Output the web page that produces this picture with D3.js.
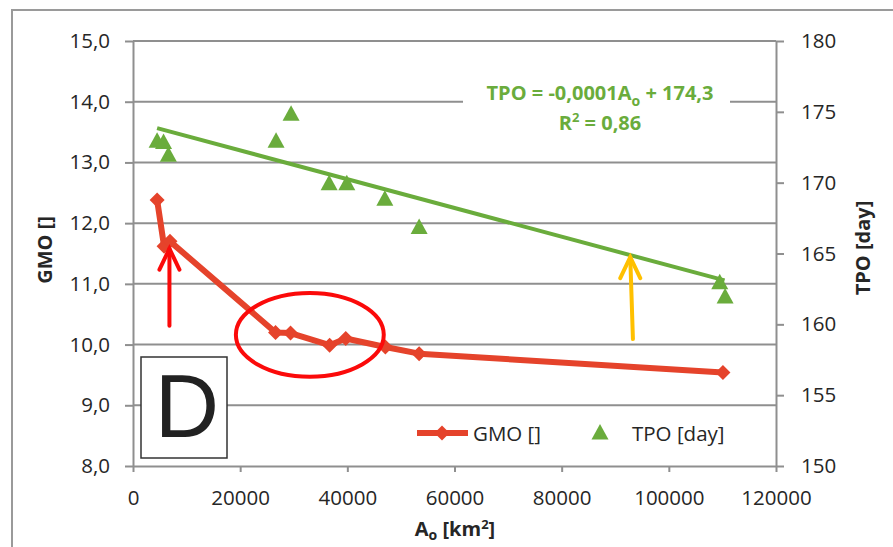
<!DOCTYPE html>
<html>
<head>
<meta charset="utf-8">
<script src="https://cdn.jsdelivr.net/npm/d3@7"></script>
<style>
body { margin:0; background:#fff; }
text { font-family:"Open Sans", sans-serif; fill:#262626; }
.axis path, .axis line { stroke:#8f8f8f; stroke-width:2; }
.axis text { font-size:20.5px; fill:#262626; font-family:"Open Sans", sans-serif; }
.title { font-size:20px; font-weight:bold; }
</style>
</head>
<body>
<svg id="chart" width="893" height="547"></svg>
<script>
// GMO series (left axis) : area Ao [km2] and value
var gmoArea  = [4500, 5800, 6900, 26600, 29400, 36700, 39700, 47100, 53400, 110100]
var gmoValue = [12.38, 11.62, 11.70, 10.20, 10.19, 9.99, 10.10, 9.96, 9.85, 9.54]

// TPO series (right axis) : area Ao [km2] and days
var tpoArea  = [4500, 5700, 6600, 26700, 29500, 36600, 39900, 47000, 53400, 109500, 110500]
var tpoValue = [173.0, 172.9, 172.0, 173.0, 174.9, 170.0, 170.0, 168.9, 166.9, 163.0, 162.0]

// linear trend of TPO, ends
var trendArea  = [4500, 110400]
var trendValue = [173.85, 163.1]

var xTicks = [0, 20000, 40000, 60000, 80000, 100000, 120000]
var leftTicks = [8, 9, 10, 11, 12, 13, 14, 15]
var rightTicks = [150, 155, 160, 165, 170, 175, 180]

var red = "#e5432b"
var green = "#6aac3c"

var svg = d3.select("#chart")

// outer frame
svg.append("rect")
    .attr("x", 12).attr("y", 10)
    .attr("width", 900).attr("height", 560)
    .attr("fill", "none").attr("stroke", "#9a9a9a").attr("stroke-width", 2)

var margins = {left:133, right:117, top:41, bottom:81}
var plot = {width: 893-margins.left-margins.right, height: 547-margins.top-margins.bottom}

var xScale = d3.scaleLinear().domain([0,120000]).range([margins.left, margins.left+plot.width])
var yLeft  = d3.scaleLinear().domain([8,15]).range([margins.top+plot.height, margins.top])
var yRight = d3.scaleLinear().domain([150,180]).range([margins.top+plot.height, margins.top])

// grid lines
svg.append("g").selectAll("line")
    .data(leftTicks.slice(1))
    .enter().append("line")
    .attr("x1", xScale(0)).attr("x2", xScale(120000))
    .attr("y1", function(d){ return yLeft(d) })
    .attr("y2", function(d){ return yLeft(d) })
    .attr("stroke", "#8f8f8f").attr("stroke-width", 2)

var fmt = function(d){ return d.toFixed(1).replace(".", ",") }

svg.append("g").attr("class","axis")
    .attr("transform","translate("+margins.left+",0)")
    .call(d3.axisLeft(yLeft).tickValues(leftTicks).tickSize(8).tickSizeOuter(0).tickPadding(15).tickFormat(fmt))

svg.append("g").attr("class","axis")
    .attr("transform","translate("+(margins.left+plot.width)+",0)")
    .call(d3.axisRight(yRight).tickValues(rightTicks).tickSize(8).tickSizeOuter(0).tickPadding(17).tickFormat(d3.format("d")))

svg.append("g").attr("class","axis")
    .attr("transform","translate(0,"+(margins.top+plot.height)+")")
    .call(d3.axisBottom(xScale).tickValues(xTicks).tickSize(6).tickSizeOuter(0).tickPadding(18).tickFormat(d3.format("d")))

svg.selectAll(".axis text").attr("fill", "#262626")

// trend line
svg.append("line")
    .attr("x1", xScale(trendArea[0])).attr("y1", yRight(trendValue[0]))
    .attr("x2", xScale(trendArea[1])).attr("y2", yRight(trendValue[1]))
    .attr("stroke", green).attr("stroke-width", 4)

// TPO triangles
var tri = "M0,-8L8.5,7.5L-8.5,7.5Z"
svg.append("g").selectAll("path")
    .data(d3.range(tpoArea.length))
    .enter().append("path")
    .attr("d", tri)
    .attr("fill", green)
    .attr("transform", function(i){ return "translate("+xScale(tpoArea[i])+","+yRight(tpoValue[i])+")" })

// GMO line + diamonds
var gmoLine = d3.line()
    .x(function(i){ return xScale(gmoArea[i]) })
    .y(function(i){ return yLeft(gmoValue[i]) })

svg.append("path")
    .datum(d3.range(gmoArea.length))
    .attr("d", gmoLine)
    .attr("fill","none").attr("stroke", red).attr("stroke-width", 6)
    .attr("stroke-linejoin","round")

var diamond = "M0,-7.5L7.5,0L0,7.5L-7.5,0Z"
svg.append("g").selectAll("path")
    .data(d3.range(gmoArea.length))
    .enter().append("path")
    .attr("d", diamond)
    .attr("fill", red)
    .attr("transform", function(i){ return "translate("+xScale(gmoArea[i])+","+yLeft(gmoValue[i])+")" })

// trend equation label
var eq = svg.append("g")
eq.append("rect").attr("x",463).attr("y",82).attr("width",267).attr("height",52).attr("fill","#fff")
var eqText = eq.append("text").attr("x",600).attr("y",100).attr("text-anchor","middle")
    .style("font-size","20px").style("font-weight","bold").style("fill",green)
eqText.append("tspan").text("TPO = -0,0001A")
eqText.append("tspan").text("o").attr("dy",6).style("font-size","14px")
eqText.append("tspan").text(" + 174,3").attr("dy",-6)
var r2 = eq.append("text").attr("x",600).attr("y",130).attr("text-anchor","middle")
    .style("font-size","20px").style("font-weight","bold").style("fill",green)
r2.append("tspan").text("R")
r2.append("tspan").text("2").attr("dy",-8).style("font-size","13px")
r2.append("tspan").text(" = 0,86").attr("dy",8)

// annotations (data units)
var ellipseC = [33000, 10.16]
svg.append("ellipse")
    .attr("cx", xScale(ellipseC[0])).attr("cy", yLeft(ellipseC[1]))
    .attr("rx", xScale(13800)-xScale(0)).attr("ry", yLeft(8)-yLeft(8.69))
    .attr("fill","none").attr("stroke","#fb0a0a").attr("stroke-width",4)

var drawArrow = function(x0, y0, x1, y1, color)
{
    var g = svg.append("g").attr("stroke", color).attr("stroke-width", 4)
        .attr("stroke-linecap","round").attr("fill","none")
    var ax = xScale(x0), ay = yLeft(y0), bx = xScale(x1), by = yLeft(y1)
    g.append("line").attr("x1",ax).attr("y1",ay).attr("x2",bx).attr("y2",by)
    g.append("polyline").attr("points", (bx-10)+","+(by+21)+" "+bx+","+by+" "+(bx+10)+","+(by+21))
        .attr("stroke-linejoin","miter")
}
drawArrow(6800, 10.31, 6800, 11.58, "#fb0a0a")
drawArrow(93300, 10.09, 92800, 11.44, "#ffc000")

// D box
svg.append("rect").attr("x",141).attr("y",357).attr("width",86).attr("height",101)
    .attr("fill","#fff").attr("stroke","#333").attr("stroke-width",1.5)
svg.append("text").attr("x",187).attr("y",437).attr("text-anchor","middle")
    .style("font-family","'Liberation Sans', Arial, sans-serif").style("font-size","89px").style("fill","#222")
    .text("D")

// legend
var legend = svg.append("g")
legend.append("line").attr("x1",417).attr("x2",468).attr("y1",433).attr("y2",433)
    .attr("stroke", red).attr("stroke-width", 6)
legend.append("path").attr("d", diamond).attr("fill", red).attr("transform","translate(442,433)")
legend.append("text").attr("x",473).attr("y",441).style("font-size","20.5px").text("GMO []")
legend.append("path").attr("d", tri).attr("fill", green).attr("transform","translate(600,432)")
legend.append("text").attr("x",632).attr("y",441).style("font-size","20.5px").text("TPO [day]")

// axis titles
svg.append("text").attr("class","title")
    .attr("transform","translate(52,250) rotate(-90)").attr("text-anchor","middle")
    .text("GMO []")
svg.append("text").attr("class","title")
    .attr("transform","translate(870,248) rotate(-90)").attr("text-anchor","middle")
    .text("TPO [day]")
var xt = svg.append("text").attr("class","title").attr("x",455).attr("y",536).attr("text-anchor","middle")
xt.append("tspan").text("A")
xt.append("tspan").text("o").attr("dy",4).style("font-size","14px")
xt.append("tspan").text(" [km").attr("dy",-4)
xt.append("tspan").text("2").attr("dy",-7).style("font-size","13px")
xt.append("tspan").text("]").attr("dy",7)
</script>
</body>
</html>
